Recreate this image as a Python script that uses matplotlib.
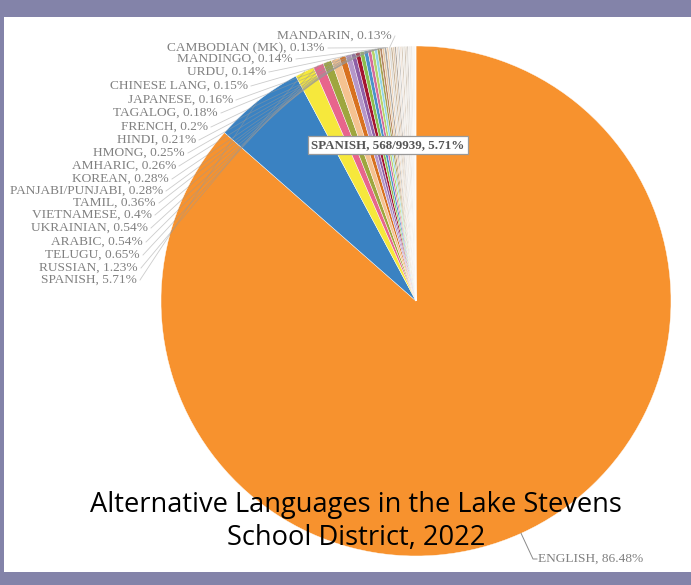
import numpy as np
import matplotlib
matplotlib.use("Agg")
import matplotlib.pyplot as plt
from matplotlib.patches import Rectangle

# ---------------- data ----------------
languages = ["ENGLISH", "SPANISH", "RUSSIAN", "TELUGU", "ARABIC", "UKRAINIAN",
             "VIETNAMESE", "TAMIL", "PANJABI/PUNJABI", "KOREAN", "AMHARIC",
             "HMONG", "HINDI", "FRENCH", "TAGALOG", "JAPANESE", "CHINESE LANG",
             "URDU", "MANDINGO", "CAMBODIAN (MK)", "MANDARIN"]
percents = [86.48, 5.71, 1.23, 0.65, 0.54, 0.54, 0.4, 0.36, 0.28, 0.28, 0.26,
            0.25, 0.21, 0.2, 0.18, 0.16, 0.15, 0.14, 0.14, 0.13, 0.13]
pct_text = ["86.48%", "5.71%", "1.23%", "0.65%", "0.54%", "0.54%", "0.4%", "0.36%",
            "0.28%", "0.28%", "0.26%", "0.25%", "0.21%", "0.2%", "0.18%", "0.16%",
            "0.15%", "0.14%", "0.14%", "0.13%", "0.13%"]
# unlabelled small languages (estimated)
other_percents = [0.12, 0.12, 0.11, 0.11, 0.1, 0.1, 0.1, 0.09, 0.09, 0.08, 0.08,
                  0.07, 0.07, 0.06, 0.05, 0.05, 0.04, 0.04, 0.03, 0.03, 0.02, 0.02]
tooltip = "SPANISH, 568/9939, 5.71%"
title_lines = ["Alternative Languages in the Lake Stevens", "School District, 2022"]

colors = ["#f7922e", "#3a82c2", "#f6e83c", "#e8658c", "#9ea63e", "#f5c290",
          "#d8711f", "#b597c9", "#8e5fa6", "#a3142f", "#8cbf4f", "#4a92c9",
          "#d56c9c", "#b6d56b", "#92d5e6", "#a6a24f", "#b58767", "#e9c9a2",
          "#a9a6a2", "#efd2b4", "#dcdad6"]
other_colors = ["#c9b59b", "#e3cdb4", "#b3aaa1", "#efe3d6", "#c9c7c4", "#f3e6da",
                "#d8cbbb", "#ece8e2", "#cfc2b2", "#e6dccf", "#bdb6ae", "#f4ece3",
                "#d9d3cc", "#efe0cf", "#c7bfb6", "#f6f0ea", "#ddd0c0", "#e8e4df",
                "#d0c9c0", "#f2e9df", "#e0d8cf", "#f7f3ee"]

# label anchor positions (pixel coords: right end x, centre y) for SPANISH..MANDARIN
label_pos = [(137, 280), (138, 268), (140, 255), (143, 242), (148, 228), (152, 215),
             (156, 203), (163, 191), (169, 179), (176, 166), (185, 153), (196, 140),
             (208, 127), (218, 113), (233, 100), (248, 86), (266, 72), (293, 59),
             (325, 48), (392, 36)]

W, H = 691, 585
def P(py):
    return H - py

fig = plt.figure(figsize=(W / 100, H / 100), dpi=100, facecolor="#8383a9")
ax = fig.add_axes([0, 0, 1, 1])
ax.set_axis_off()

ax.add_patch(Rectangle((4, P(572)), W - 4, 572 - 17, facecolor="white",
                       edgecolor="none", zorder=0))

cx, cy, R = 416, P(301), 255
wedges, _ = ax.pie(percents + other_percents, colors=colors + other_colors,
                   startangle=90, counterclock=False, center=(cx, cy), radius=R,
                   wedgeprops=dict(edgecolor="white", linewidth=0.3), frame=True)
for w in wedges:
    w.set_zorder(2)

ax.set_xlim(0, W)
ax.set_ylim(0, H)
ax.set_aspect("auto")
ax.set_axis_off()

lab_font = dict(family="Liberation Serif", fontsize=9.6, color="#808080")

for i in range(1, len(languages)):
    w = wedges[i]
    th = np.deg2rad((w.theta1 + w.theta2) / 2)
    ex, ey = cx + R * np.cos(th), cy + R * np.sin(th)
    lx, ly = label_pos[i - 1]
    ax.text(lx, P(ly), f"{languages[i]}, {pct_text[i]}", ha="right", va="center",
            zorder=5, **lab_font)
    ax.plot([lx + 3, ex], [P(ly), ey], color="#999999", lw=0.6, alpha=0.5, zorder=3)

# English label
w = wedges[0]
th = np.deg2rad((w.theta1 + w.theta2) / 2)
ex, ey = cx + R * np.cos(th), cy + R * np.sin(th)
ax.plot([ex, 533, 537], [ey, P(559), P(559)], color="#8a8a8a", lw=0.7, zorder=3)
ax.text(538, P(559), f"{languages[0]}, {pct_text[0]}", ha="left", va="center",
        zorder=5, **lab_font)

# tooltip
ax.text(388, P(145), tooltip, ha="center", va="center", zorder=6,
        family="Liberation Serif", fontsize=9.4, color="#555555", fontweight="bold",
        bbox=dict(boxstyle="square,pad=0.25", facecolor="white", edgecolor="#9a9a9a",
                  linewidth=0.9))

# title
ax.text(356, P(512), title_lines[0], ha="center", va="baseline", zorder=7,
        family="Open Sans", fontsize=19.6, color="black")
ax.text(356, P(545), title_lines[1], ha="center", va="baseline", zorder=7,
        family="Open Sans", fontsize=19.6, color="black")

fig.savefig("out.png", dpi=100, facecolor=fig.get_facecolor())
